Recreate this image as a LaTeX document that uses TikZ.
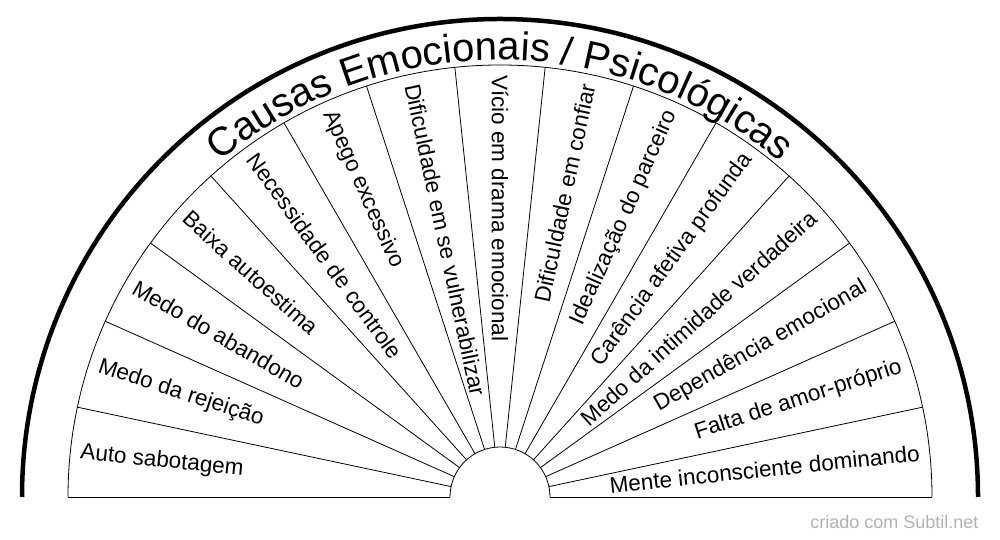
\documentclass[tikz,border=0pt]{standalone}
\usepackage{fontspec}
\setmainfont{Liberation Sans}
\usetikzlibrary{decorations.text,calc}
\tikzset{
  sector line/.style={black, line width=0.8pt},
  rim/.style={black, line width=4.5pt},
  lbl/.style={font=\fontsize{22.5}{26}\selectfont, inner sep=0pt}
}
\begin{document}
\begin{tikzpicture}[x=1pt,y=1pt]
\useasboundingbox (0,0) rectangle (1000,540);
\coordinate (c) at (500,43);

% -------- rings -----------
\draw[sector line] (c) ++(180:432) arc (180:0:432);
\draw[sector line] (c) ++(180:50) arc (180:0:50);
\draw[sector line] (c) ++(180:432) -- ++(382,0);
\draw[sector line] (c) ++(0:50) -- ++(382,0);
\draw[rim] (c) ++(180:478) arc (180:0:478);

% -------- spokes -----------
\foreach \i in {1,...,14}
  \draw[sector line] (c) ++(180-12*\i:50) -- ++(180-12*\i:382);

% -------- labels -----------
\foreach \txt [count=\i from 0] in {Auto sabotagem, Medo da rejeição, Medo do abandono,
  Baixa autoestima, Necessidade de controle, Apego excessivo,
  Dificuldade em se vulnerabilizar, Vício em drama emocional}
  \node[lbl, anchor=west, rotate=-6-12*\i] (l\i) at ($(c)+(174-12*\i:422)$) {\txt};
\foreach \txt [count=\i from 8] in {Dificuldade em confiar, Idealização do parceiro,
  Carência afetiva profunda, Medo da intimidade verdadeira, Dependência emocional,
  Falta de amor-próprio, Mente inconsciente dominando}
  \node[lbl, anchor=east, rotate=174-12*\i] (l\i) at ($(c)+(174-12*\i:422)$) {\txt};

% -------- title -----------
\path[decorate, decoration={text along path, text align=center,
  text format delimiters={|}{|},
  text={|\fontsize{40}{44}\selectfont|Causas Emocionais / Psicológicas}}]
  (c) ++(165:437) arc (165:15:437);

\node[font=\fontsize{18}{20}\selectfont, text=black!30, anchor=south east] (credit) at (982,8) {criado com Subtil.net};
\end{tikzpicture}
\end{document}
